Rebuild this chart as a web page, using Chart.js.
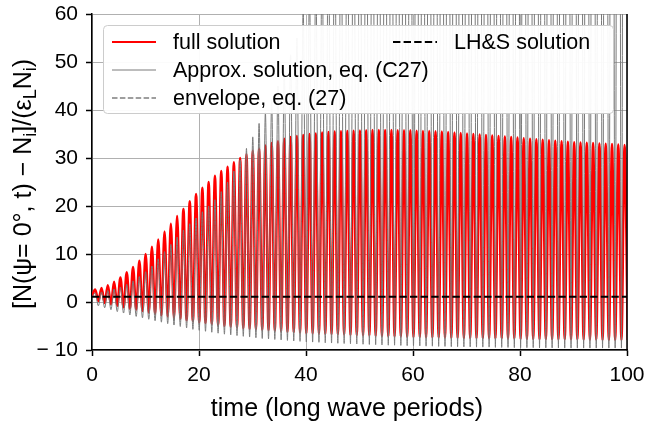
<!DOCTYPE html>
<html>
<head>
<meta charset="utf-8">
<script src="https://cdn.jsdelivr.net/npm/chart.js@4.4.0/dist/chart.umd.min.js"></script>
<style>
  html, body { margin: 0; padding: 0; background: #fff; }
  canvas { display: block; }
</style>
</head>
<body>
<canvas id="chart" width="647" height="425"></canvas>
<script>
// times (long wave periods) of the oscillation maxima
const peakTimes = [
  0.60, 1.78, 2.96, 4.13, 5.31, 6.49, 7.67, 8.85, 10.02, 11.20,
  12.38, 13.56, 14.74, 15.91, 17.09, 18.27, 19.45, 20.63, 21.80, 22.98,
  24.16, 25.34, 26.52, 27.69, 28.87, 30.05, 31.23, 32.41, 33.58, 34.76,
  35.94, 37.12, 38.30, 39.47, 40.65, 41.83, 43.01, 44.19, 45.36, 46.54,
  47.72, 48.90, 50.08, 51.25, 52.43, 53.61, 54.79, 55.97, 57.14, 58.32,
  59.50, 60.68, 61.86, 63.03, 64.21, 65.39, 66.57, 67.75, 68.92, 70.10,
  71.28, 72.46, 73.64, 74.81, 75.99, 77.17, 78.35, 79.53, 80.70, 81.88,
  83.06, 84.24, 85.42, 86.59, 87.77, 88.95, 90.13, 91.31, 92.48, 93.66,
  94.84, 96.02, 97.20, 98.37, 99.55
];

// full solution: value at t=0, maxima and the minima that follow them
const fullStart = 1.3;
const fullPeaks = [
  2.6, 2.9, 3.5, 4.2, 5.1, 6.2, 7.3, 8.6, 10.0, 11.5,
  13.0, 14.7, 16.3, 17.9, 19.4, 21.0, 22.5, 23.8, 25.0, 26.3,
  27.3, 28.2, 29.1, 30.0, 30.8, 31.5, 32.0, 32.6, 33.1, 33.5,
  34.0, 34.4, 34.6, 34.8, 35.0, 35.1, 35.3, 35.4, 35.5, 35.55,
  35.6, 35.7, 35.75, 35.8, 35.85, 35.85, 35.85, 35.85, 35.8, 35.8,
  35.8, 35.7, 35.65, 35.6, 35.55, 35.5, 35.4, 35.3, 35.2, 35.1,
  35.0, 34.9, 34.8, 34.7, 34.6, 34.5, 34.4, 34.25, 34.1, 34.0,
  33.9, 33.8, 33.7, 33.6, 33.5, 33.4, 33.3, 33.25, 33.2, 33.1,
  33.0, 32.95, 32.9, 32.8, 32.7
];
const fullTroughs = [
  0.2, -0.2, -0.5, -0.8, -1.1, -1.4, -1.6, -1.9, -2.2, -2.5,
  -2.8, -3.0, -3.3, -3.5, -3.8, -4.0, -4.2, -4.4, -4.6, -4.8,
  -5.0, -5.15, -5.3, -5.45, -5.6, -5.7, -5.8, -5.9, -6.0, -6.1,
  -6.2, -6.3, -6.4, -6.5, -6.55, -6.6, -6.65, -6.7, -6.75, -6.8,
  -6.85, -6.9, -6.95, -7.0, -7.05, -7.1, -7.15, -7.2, -7.2, -7.25,
  -7.3, -7.3, -7.35, -7.35, -7.4, -7.4, -7.45, -7.45, -7.5, -7.5,
  -7.55, -7.55, -7.6, -7.6, -7.6, -7.65, -7.65, -7.7, -7.7, -7.7,
  -7.75, -7.75, -7.75, -7.8, -7.8, -7.8, -7.8, -7.85, -7.85, -7.85,
  -7.9, -7.9, -7.9, -7.9, -7.9
];

// approximate solution, eq. (C27); maxima past ~t=39 are above the plot
const approxStart = 1.0;
const approxPeaks = [
  1.9, 2.1, 2.4, 2.7, 3.1, 3.7, 4.4, 5.3, 6.3, 7.5,
  9.0, 10.5, 12.0, 13.5, 15.0, 16.3, 17.5, 18.8, 20.0, 21.3,
  23.0, 25.0, 27.3, 29.6, 32.0, 34.4, 37.2, 39.5, 42.0, 45.0,
  48.0, 51.5, 55.0, 61, 65, 69, 73, 78, 82, 86,
  90, 95, 99, 103, 108, 112, 116, 120, 125, 129,
  133, 137, 142, 146, 150, 154, 159, 163, 167, 171,
  176, 180, 184, 188, 193, 197, 201, 205, 210, 214,
  218, 222, 227, 231, 235, 239, 244, 248, 252, 256,
  261, 265, 269, 273, 278
];
const approxTroughs = [
  -0.8, -1.2, -1.6, -2.0, -2.3, -2.7, -3.0, -3.3, -3.6, -3.9,
  -4.2, -4.5, -4.8, -5.1, -5.4, -5.7, -5.9, -6.1, -6.3, -6.5,
  -6.7, -6.85, -7.0, -7.15, -7.3, -7.45, -7.6, -7.7, -7.8, -7.9,
  -8.0, -8.1, -8.2, -8.3, -8.35, -8.4, -8.5, -8.55, -8.6, -8.65,
  -8.7, -8.75, -8.8, -8.85, -8.9, -8.95, -9.0, -9.0, -9.05, -9.1,
  -9.1, -9.15, -9.2, -9.2, -9.25, -9.25, -9.3, -9.3, -9.35, -9.35,
  -9.4, -9.4, -9.4, -9.45, -9.45, -9.45, -9.5, -9.5, -9.5, -9.5,
  -9.55, -9.55, -9.55, -9.55, -9.6, -9.6, -9.6, -9.6, -9.6, -9.6,
  -9.6, -9.6, -9.6, -9.6, -9.6
];

// envelope, eq. (27): no part of it shows inside the plotted range
const envelopeTimes = [];
const envelopeValues = [];

// LH&S solution (constant level)
const lhsTimes = [0, 100];
const lhsValues = [1.1, 1.1];

const legendLabels = ['full solution', 'Approx. solution, eq. (C27)', 'envelope, eq. (27)', 'LH&S solution'];

function wave(start, peaks, troughs) {
  const pts = [{x: 0, y: start}];
  peaks.forEach((p, k) => {
    const t = peakTimes[k];
    const next = k + 1 < peakTimes.length ? peakTimes[k + 1] : 2 * t - peakTimes[k - 1];
    pts.push({x: t, y: p});
    pts.push({x: (t + next) / 2, y: troughs[k]});
  });
  return pts;
}

function pairs(xs, ys) {
  return xs.map((x, i) => ({x: x, y: ys[i]}));
}

const FONT = '"Liberation Sans", Arial, sans-serif';
Chart.defaults.font.family = FONT;
Chart.defaults.color = '#000';

// legend, right spine, axis titles
const decorations = {
  id: 'decorations',
  afterDraw(chart) {
    const ctx = chart.ctx;
    const a = chart.chartArea;
    ctx.save();

    ctx.strokeStyle = '#000';
    ctx.lineWidth = 1.5;
    ctx.beginPath();
    ctx.moveTo(a.right, a.top);
    ctx.lineTo(a.right, a.bottom + 0.75);
    ctx.stroke();

    // legend box
    ctx.beginPath();
    ctx.roundRect(103.5, 25.5, 510, 88, 4);
    ctx.fillStyle = 'rgba(255,255,255,0.95)';
    ctx.fill();
    ctx.strokeStyle = '#cccccc';
    ctx.lineWidth = 1;
    ctx.stroke();

    const spots = [[112, 42], [112, 70], [112, 98], [393, 42]];
    ctx.font = '21.5px ' + FONT;
    ctx.textBaseline = 'middle';
    ctx.fillStyle = '#000';
    spots.forEach((s, i) => {
      const d = chart.data.datasets[i];
      ctx.strokeStyle = d.borderColor;
      ctx.lineWidth = Math.min(d.borderWidth, 2);
      ctx.setLineDash(d.borderDash || []);
      ctx.beginPath();
      ctx.moveTo(s[0], s[1]);
      ctx.lineTo(s[0] + 44, s[1]);
      ctx.stroke();
      ctx.setLineDash([]);
      ctx.fillText(legendLabels[i], s[0] + 61, s[1] + 1);
    });

    // x title
    ctx.font = '25px ' + FONT;
    ctx.textAlign = 'center';
    ctx.fillText('time (long wave periods)', 347, 409);

    // y title with sub/superscripts
    const big = '25px ' + FONT, small = '18px ' + FONT;
    const parts = [
      ['[N(\u03c8= 0', big, 0], ['\u00b0', big, 0], [', t) \u2212 N', big, 0], ['i', small, 5],
      [']/(\u03b5', big, 0], ['L', small, 5], ['N', big, 0], ['i', small, 5], [')', big, 0]
    ];
    let total = 0;
    parts.forEach(p => { ctx.font = p[1]; total += ctx.measureText(p[0]).width; });
    ctx.translate(31, 184);
    ctx.rotate(-Math.PI / 2);
    ctx.textAlign = 'left';
    ctx.textBaseline = 'alphabetic';
    let x = -total / 2;
    parts.forEach(p => {
      ctx.font = p[1];
      ctx.fillText(p[0], x, p[2]);
      x += ctx.measureText(p[0]).width;
    });
    ctx.restore();
  }
};

new Chart(document.getElementById('chart'), {
  type: 'line',
  data: {
    datasets: [
      {
        label: legendLabels[0],
        data: wave(fullStart, fullPeaks, fullTroughs),
        borderColor: '#ff0000',
        borderWidth: 2.5,
        order: 4
      },
      {
        label: legendLabels[1],
        data: wave(approxStart, approxPeaks, approxTroughs),
        borderColor: '#7a7a7a',
        borderWidth: 1,
        order: 3
      },
      {
        label: legendLabels[2],
        data: pairs(envelopeTimes, envelopeValues),
        borderColor: '#7f7f7f',
        borderWidth: 1.5,
        borderDash: [5.5, 2.4],
        order: 2
      },
      {
        label: legendLabels[3],
        data: pairs(lhsTimes, lhsValues),
        borderColor: '#000',
        borderWidth: 2,
        borderDash: [7.4, 3.2],
        order: 1
      }
    ]
  },
  options: {
    responsive: false,
    animation: false,
    events: [],
    layout: { padding: { top: 14, right: 20, left: 0, bottom: 0 } },
    elements: {
      point: { radius: 0 },
      line: { cubicInterpolationMode: 'monotone', fill: false }
    },
    datasets: { line: { clip: 0 } },
    plugins: {
      legend: { display: false },
      tooltip: { enabled: false }
    },
    scales: {
      x: {
        type: 'linear',
        min: 0,
        max: 100,
        ticks: { stepSize: 20, font: { size: 21 }, color: '#000', padding: 7 },
        grid: { color: '#b0b0b0', lineWidth: 1, tickColor: '#000', tickLength: 6, tickWidth: 1.5 },
        border: { color: '#000', width: 1.5 },
        afterFit(s) { s.height = 75; s.paddingLeft = 0; s.paddingRight = 0; }
      },
      y: {
        min: -10,
        max: 60,
        ticks: {
          stepSize: 10,
          font: { size: 21 },
          color: '#000',
          padding: 8,
          callback: v => v < 0 ? '\u2212 ' + Math.abs(v) : String(v)
        },
        grid: { color: '#b0b0b0', lineWidth: 1, tickColor: '#000', tickLength: 6, tickWidth: 1.5 },
        border: { color: '#000', width: 1.5 },
        afterFit(s) { s.width = 92; s.paddingTop = 0; s.paddingBottom = 0; }
      }
    }
  },
  plugins: [decorations]
});
</script>
</body>
</html>
